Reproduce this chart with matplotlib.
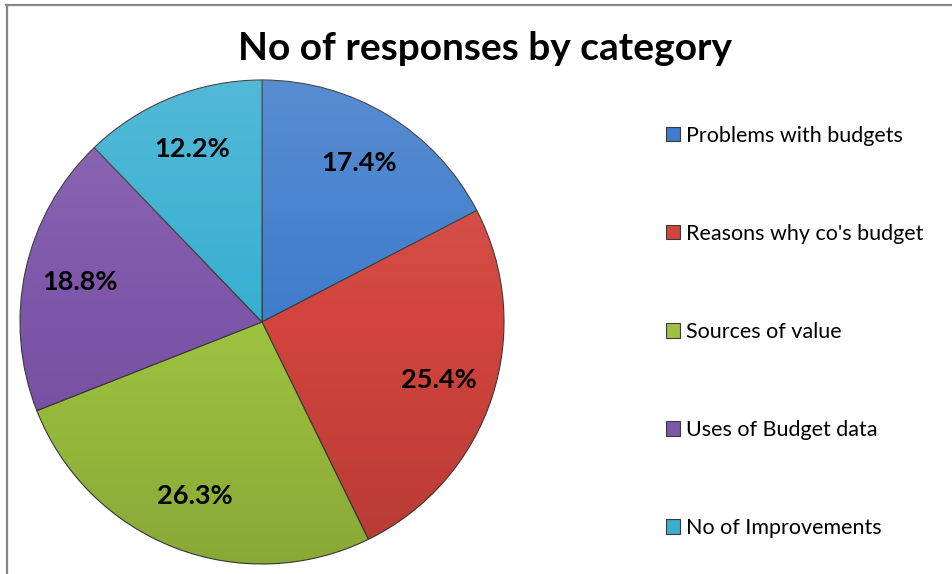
import numpy as np
import matplotlib
matplotlib.use("Agg")
import matplotlib.pyplot as plt
from matplotlib.patches import Circle
from matplotlib.lines import Line2D

categories = ["Problems with budgets", "Reasons why co's budget", "Sources of value",
              "Uses of Budget data", "No of Improvements"]
shares = [17.4, 25.4, 26.3, 18.8, 12.2]
colors = ["#3f7ccb", "#d2443d", "#9dc23f", "#7d55a9", "#38afd1"]
title = "No of responses by category"

W, H = 953, 574
fig = plt.figure(figsize=(W / 100, H / 100), dpi=100)
ax = fig.add_axes([0, 0, 1, 1])

cx, cy, R = 262, H - 322, 242

wedges, texts, autotexts = ax.pie(
    shares, colors=colors, startangle=90, counterclock=False,
    center=(cx, cy), radius=R, autopct="%1.1f%%", pctdistance=0.77,
    wedgeprops=dict(edgecolor="#3a3a3a", linewidth=0.8),
    textprops=dict(fontsize=19.5, fontweight="bold", family="Lato", color="black"),
    frame=True,
)
ax.set_xlim(0, W)
ax.set_ylim(0, H)
ax.set_aspect("equal")
ax.axis("off")

# Soft vertical shading over the pie: lighter at top, darker at bottom
grad = np.linspace(0, 1, 256).reshape(-1, 1)
shade = np.zeros((256, 1, 4))
shade[..., :3] = np.where(grad[..., None] < 0.5, 1.0, 0.0)
shade[..., 3] = np.abs(grad - 0.5) * 0.26
img = ax.imshow(shade, extent=(cx - R, cx + R, cy - R, cy + R), origin="upper",
                aspect="auto", zorder=3, interpolation="bilinear")
img.set_clip_path(Circle((cx, cy), R, transform=ax.transData))
for t in autotexts:
    t.set_zorder(5)

fig.text(485 / W, 1 - 48 / H, title, ha="center", va="center",
         fontsize=28, fontweight="bold", family="Lato")

ax.legend(wedges, categories, loc="upper left", bbox_to_anchor=(657 / W, 1 - 117 / H),
          bbox_transform=fig.transFigure, frameon=False,
          prop=dict(family="Lato", size=15.5), handlelength=0.65, handleheight=0.65,
          handletextpad=0.3, labelspacing=3.63, borderaxespad=0)

# Chart frame lines (top and left)
fig.add_artist(Line2D([6 / W, 1], [1 - 4.5 / H, 1 - 4.5 / H], transform=fig.transFigure,
                      color="#888888", linewidth=1.6))
fig.add_artist(Line2D([6.5 / W, 6.5 / W], [0, 1 - 4.5 / H], transform=fig.transFigure,
                      color="#888888", linewidth=1.6))

fig.savefig("out.png", dpi=100)
